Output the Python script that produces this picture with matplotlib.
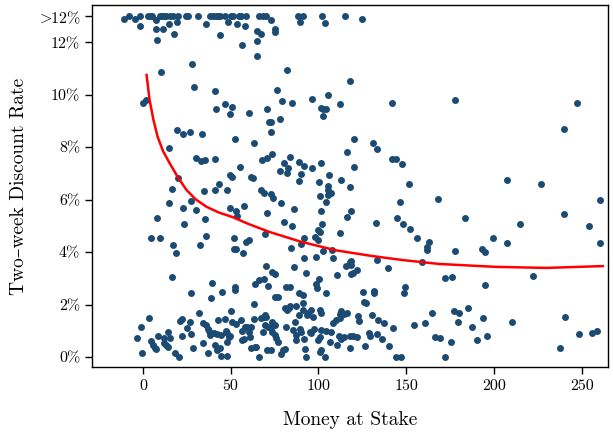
import matplotlib
matplotlib.use("Agg")
import matplotlib.pyplot as plt
import numpy as np

# ---- data ----
top_x = [-10.8, -8.0, -4.7, -1.9, 2.9, 5.3, 7.6, 9.5, 11.1, 13.3, 15.2, 17.1, 19.4, 24.3, 25.7,
         31.4, 38.0, 39.9, 41.8, 44.1, 46.6, 48.5, 51.3, 54.7, 59.0, 66.1, 68.4, 70.4, 73.2,
         88.4, 89.7, 91.2, 102.3, 103.6, 115.0, 125.1, 4.0, 12.0, 20.0, 43.0, 50.0, 56.0]
top_y = [12.9, 13.0, 12.9, 13.0, 13.0, 13.0, 12.85, 13.0, 13.0, 13.0, 13.0, 13.0, 12.8, 13.0, 13.0,
         13.0, 13.0, 13.0, 13.0, 13.0, 13.0, 12.8, 13.0, 13.0, 13.0, 13.0, 13.0, 13.0, 12.85,
         13.0, 12.8, 13.0, 13.0, 12.75, 13.0, 12.9, 13.0, 13.0, 13.0, 13.0, 13.0, 13.0]

pts = [
 (-1.9,12.63),(7.6,12.52),(11.4,12.52),(14.8,12.7),(17.5,12.33),(8.2,12.1),(35.7,12.71),(44.1,12.29),
 (53.6,12.7),(58,12.63),(56.7,11.91),(65,12.45),(67.5,12.33),(65.2,12.06),(65.2,11.49),(75.5,12.51),(75.5,12.39),
 (27.9,11.17),(10.5,10.89),(29.1,10.29),(41.3,10.15),(0,9.68),(1.5,9.81),(41.8,9.47),(46.8,9.66),(50.7,9.55),
 (49.4,9.27),(60.3,9.32),(70.9,9.47),(71.8,8.98),(19.4,8.66),(22.8,8.5),(26.6,8.59),(33.6,8.5),(52.7,8.3),
 (82.1,10.95),(118,10.53),(76.4,10.19),(79.5,9.78),(85.2,9.68),(96.4,9.85),(105.7,10.0),(112.3,9.64),(141.8,9.69),
 (101.7,9.49),(102.6,9.45),(104.6,9.45),(102.5,9.21),(78.1,9.1),(72.8,8.97),(72.8,8.59),(120,8.31),
 (177.7,9.82),(247.3,9.69),(240,8.7),
 (63.3,8.18),(14.8,7.99),(30,7.58),(33.3,7.49),(35.2,7.51),(40.9,7.56),(55.5,7.26),(68.1,7.52),(70.9,7.58),
 (49.4,6.95),(51,6.87),(61.4,6.87),(62.7,6.82),(20,6.84),(43.3,6.6),(16.8,6.4),(34.8,6.34),(41,6.36),(48.1,6.37),
 (67.1,6.37),(69,6.27),(14.8,5.89),(27.6,5.95),(23,5.69),(30.4,5.6),(49.4,5.69),(53.2,5.58),(53.6,5.38),(57.4,5.76),
 (70.9,5.48),(8.2,5.32),(35.2,5.27),(23.4,5.09),(69.8,4.68),(4.8,4.53),(9.5,4.53),(36.1,4.62),(51.9,4.53),(59,4.4),
 (60.4,4.47),(17.1,4.26),(32.7,4.27),(51.9,4.11),(52.8,4.11),(18.6,3.98),(57,3.96),
 (131.1,8.16),(133.1,7.95),(116.1,7.82),(73.8,7.75),(84,7.62),(80.2,7.42),(88.8,7.45),(91.8,7.28),(101.3,7.39),
 (96.6,7.23),(82.7,7.23),(77.9,7.1),(82.3,7.03),(90.3,6.97),(106,6.94),(89.2,6.72),(100.3,6.67),(112.9,6.76),
 (120.3,7.26),(142,7.56),(144.1,7.56),(147.7,7.35),(151.7,6.6),(105.7,6.53),(105.7,6.37),(107.4,6.25),(105.7,6.18),
 (100.7,6.16),(118.2,6.5),(73.2,6.21),(74.1,6.06),(78.5,5.89),(104.6,5.93),(168.2,6.03),(146.4,5.93),(85.9,5.65),
 (101.7,5.57),(118.8,5.58),(116.3,5.33),(144.5,5.29),(148.2,5.08),(152,4.89),(156.4,4.55),(163,4.38),(161.9,4.19),
 (161.9,4.08),(80.2,5.16),(85,5.01),(102,5.08),(132.7,5.1),(112.5,4.73),(99.8,4.85),(101.1,4.78),(98.3,4.57),
 (99.8,4.47),(91.8,4.55),(89.9,4.3),(84.6,4.15),(102.6,4.05),(91.6,3.77),(98.5,3.8),(108.3,3.77),(118.8,3.68),
 (207.5,6.76),(226.9,6.59),(260.4,6.0),(183.6,5.29),(240,5.46),(254.3,5.01),(214.9,5.06),(199.2,4.54),(207.5,4.34),
 (260.4,4.34),(177.7,4.05),(193.1,4.12),(195,4.02),
 (70.4,3.49),(16.5,3.04),(39.6,2.81),(52.7,2.68),(52.7,2.56),(63.9,2.79),(66.1,2.94),(69.2,2.97),(71.3,2.72),
 (27.6,2.43),(45.3,2.47),(39,2.24),(63.1,2.01),(50.4,1.77),(31.8,1.67),(3.4,1.48),(-1.3,1.13),(-3.2,0.74),(-0.6,0.14),
 (4.8,0.62),(5.7,0.46),(6.7,0.33),(7.6,0.29),(8.6,0.8),(11.8,0.71),(11.8,0.55),(12.9,0.46),(14.3,0.37),(14.3,0.94),
 (15.2,0.74),(18.1,0.16),(20.5,0.01),(21.3,1.37),(22.1,1.44),(22.5,0.81),(25.1,1.12),(27,1.35),(27.6,0.87),(28.5,0.33),
 (34.2,1.31),(36.1,1.22),(37.1,1.07),(37.6,1.0),(34.2,0.55),(37.1,0.16),(38.4,0.84),(40.5,0.9),(42.4,0.88),(44.3,0.84),
 (40.9,0.46),(42.2,0.27),(44.1,0.35),(43,1.41),(46.6,1.44),(44.7,0.04),(47.9,0.04),(47.1,1.0),(48.1,0.9),(49,0.75),
 (49.8,0.8),(47.9,0.58),(51,1.35),(53.2,1.26),(56.1,1.41),(56.7,1.0),(58,1.13),(59.3,1.16),(61.8,1.16),(60.4,0.97),
 (56.7,0.65),(57.4,0.68),(60.8,0.77),(61.4,0.35),(63.7,0.39),(64.7,0.37),(63.3,1.44),(66,0.01),(67.5,1.48),(68.8,1.52),
 (69.8,1.6),(70.4,1.54),(68.4,0.97),(69.4,1.22),(71.3,1.13),(70.9,0.27),
 (107.8,4.08),(86.1,3.42),(117.8,3.64),(118.8,3.51),(116,3.48),(122,3.32),(119.7,3.19),(118.8,3.17),(133.1,3.7),
 (139.7,3.39),(159.1,3.61),(172.4,3.03),(73.8,3.26),(75.1,3.16),(92.8,3.19),(100.3,2.98),(98.5,2.79),(99.4,2.65),
 (110.8,3.13),(104.6,2.43),(81.4,2.66),(84,2.66),(75.1,2.3),(77,2.3),(88.8,2.43),(91.2,2.37),(91.2,2.05),(125.4,2.47),
 (131.5,2.53),(131.5,2.43),(149.2,2.68),(148.8,2.43),(125.8,2.09),(127.4,2.05),(80.8,1.86),(82.1,1.79),(83.1,1.86),
 (84,1.95),(87.5,1.95),(91.2,1.79),(88.9,1.6),(93.5,1.6),(96,1.79),(94.1,1.67),(100.7,1.79),(101.7,1.67),(96.9,1.54),
 (113.1,1.77),(112.5,1.64),(114.4,1.64),(116.3,1.67),(108.3,1.31),(110.3,1.41),(112.1,1.48),(122.6,1.56),(123,1.39),
 (130.6,1.6),(134,1.41),(137.4,1.29),(142.5,1.12),(154.5,1.22),(160.6,1.31),(164.8,1.67),(86.5,1.35),(81.8,1.16),
 (73.8,1.35),(75.1,1.22),(73.2,1.1),(73.8,0.97),(75.1,0.84),(76,0.71),(77,0.58),(85.5,1.03),(87.5,0.84),(87.1,0.65),
 (89.7,1.07),(90.3,0.94),(91.6,0.68),(95.4,0.97),(96,0.9),(97.3,1.06),(100.7,0.75),(99.8,0.65),(101.7,1.03),(104.2,1.0),
 (107.4,0.97),(106.8,0.58),(111.7,0.8),(113.1,0.68),(114.4,0.75),(117.8,0.8),(119.7,0.8),(122,0.75),(110.8,0.46),
 (117.8,0.33),(128.8,0.93),(129.2,0.8),(133.1,0.88),(136.5,0.68),(126.4,0.42),(140.1,0.42),(144.1,0.01),(146.9,0.01),
 (92.2,0.29),(92.8,0.01),(103.6,0.01),(79.8,0.27),(78.9,0.11),(80.8,0.31),(101.7,0.27),(101.1,0.2),(73.2,0.27),
 (166.7,0.75),(169.2,0.71),(172.4,0.01),
 (176.4,3.04),(194.8,2.75),(222.3,3.09),(177.3,1.77),(180.2,1.67),(185.3,1.86),(179.6,1.34),(193.8,1.48),(187.6,1.13),
 (210.4,1.34),(240.4,1.54),(175.4,0.58),(190.4,0.65),(196,0.81),(237.6,0.36),(248.6,0.88),(255.6,0.9),(258.8,1.0),
]
stake = [p[0] for p in pts]
rate = [p[1] for p in pts]

curve_x = [2.1, 3.8, 6.0, 8.4, 11.5, 15.2, 20.0, 24.9, 30.0, 36.3, 43.0, 51.1, 60.0, 72.2, 90.0, 110.0, 130.0, 148.0, 169.0, 201.0, 230.0, 262.0]
curve_y = [10.76, 9.81, 9.05, 8.40, 7.85, 7.40, 6.85, 6.37, 6.02, 5.73, 5.52, 5.34, 5.08, 4.77, 4.40, 4.07, 3.86, 3.70, 3.55, 3.44, 3.40, 3.47]

yticks = [0, 2, 4, 6, 8, 10, 12, 13]
ytick_labels = ["0%", "2%", "4%", "6%", "8%", "10%", "12%", r"${>}\!\!$12%"]
xticks = [0, 50, 100, 150, 200, 250]

plt.rcParams['mathtext.fontset'] = 'cm'
plt.rcParams['font.family'] = ['cmr10', 'DejaVu Serif']
plt.rcParams['axes.unicode_minus'] = False

fig = plt.figure(figsize=(6.13, 4.32), dpi=100)
ax = fig.add_axes([92/613, 65/432, 516/613, 362/432])
dot = '#1b4a73'
ax.scatter(stake, rate, s=25, color=dot, linewidths=0, zorder=2)
ax.scatter(top_x, top_y, s=25, color=dot, linewidths=0, zorder=2)
ax.plot(curve_x, curve_y, color='#ff0000', lw=1.8, zorder=3)

ax.set_xlim(-29, 265)
ax.set_ylim(-0.38, 13.43)
ax.set_xticks(xticks)
ax.set_xticklabels([str(v) for v in xticks])
ax.set_yticks(yticks)
ax.set_yticklabels(ytick_labels)
ax.tick_params(direction='out', length=5, width=1, labelsize=11.5, colors='black')
for s in ax.spines.values():
    s.set_linewidth(1.0)
ax.set_xlabel("Money at Stake", fontsize=14, labelpad=13)
ax.set_ylabel("Two\u2013week Discount Rate", fontsize=14)
ax.yaxis.set_label_coords(-0.124, 0.5)
fig.savefig("out.png", dpi=100)
